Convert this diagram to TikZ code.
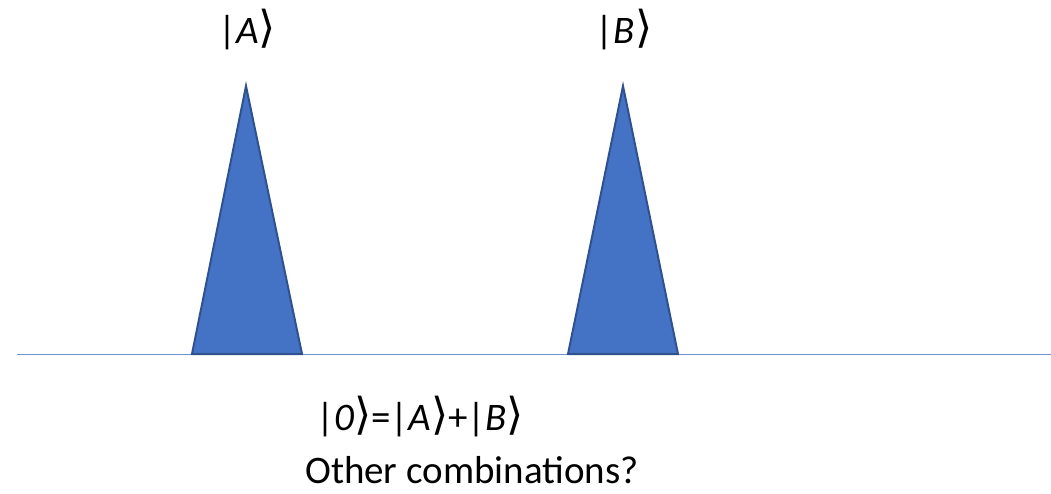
\documentclass[tikz,border=0pt]{standalone}
\usepackage{fontspec}
\setmainfont{Carlito}
\newfontfamily\djfont{DejaVu Sans}
\newcommand{\rket}{{\djfont\fontsize{44}{46}\selectfont\raisebox{0.5pt}{⟩}}}
\begin{document}
\begin{tikzpicture}[x=1pt,y=-1pt,
  spike/.style={fill={rgb,255:red,68;green,114;blue,196}, draw={rgb,255:red,47;green,82;blue,143}, line width=2pt, line join=miter},
  lbl/.style={font=\fontsize{39}{46}\selectfont, inner sep=0pt, anchor=base west}]
\useasboundingbox (0,0) rectangle (1051,493);
\draw[draw={rgb,255:red,114;green,146;blue,212}, line width=1.5pt] (17,354.5) coordinate (l0) -- (1051,354.5) coordinate (l1);
\draw[spike] (246,86) coordinate (a) -- (302,354) -- (192,354) -- cycle;
\draw[spike] (623,86) coordinate (b) -- (678,354) -- (568,354) -- cycle;
\node[lbl, anchor=base] (ka) at (247,43) {|\textit{A}\rket};
\node[lbl, anchor=base] (kb) at (624,43) {|\textit{B}\rket};
\node[lbl] (eq) at (316,430) {|\textit{0}\rket=|\textit{A}\rket+|\textit{B}\rket};
\node[lbl] (oc) at (305,483) {Other combinations?};
\end{tikzpicture}
\end{document}
